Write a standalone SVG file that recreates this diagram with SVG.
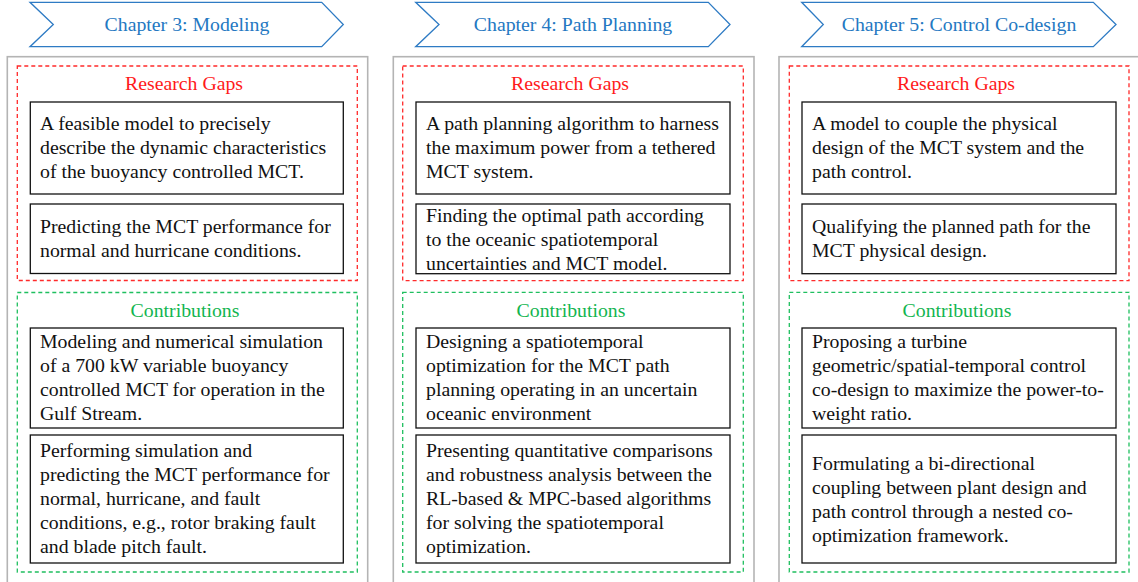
<svg xmlns="http://www.w3.org/2000/svg" width="1138" height="582" viewBox="0 0 1138 582" font-family="Liberation Serif, Times New Roman, serif">
  <style>
    text { font-family: 'Liberation Serif', 'Times New Roman', Times, serif; font-size: 19.8px; }
    .chev { fill: #ffffff; stroke: #2e7bc4; stroke-width: 1.3; }
    .chev-t { fill: #2478c2; text-anchor: middle; }
    .panel { fill: #ffffff; stroke: #b4b4b4; stroke-width: 1.6; }
    .gaps { fill: none; stroke: #ff2a2a; stroke-width: 1.3; stroke-dasharray: 4 3; }
    .contrib { fill: none; stroke: #1fbf5f; stroke-width: 1.3; stroke-dasharray: 4 3; }
    .gaps-t { fill: #ff1a1a; text-anchor: middle; }
    .contrib-t { fill: #12b550; text-anchor: middle; }
    .box { fill: #ffffff; stroke: #111111; stroke-width: 1.3; }
    .body { fill: #111111; }
  </style>

  <!-- Chapter 3 column -->
  <g id="chapter3">
    <polygon class="chev" points="30,2.3 321.7,2.3 343.3,24.5 321.7,46.7 30,46.7 53.3,24.5"/>
    <text class="chev-t" x="187" y="31">Chapter 3: Modeling</text>
    <rect class="panel" x="7.3" y="56.7" width="360.4" height="540"/>
  </g>
  <g id="ch3-gaps">
    <rect class="gaps" x="17.3" y="66" width="340" height="214.5"/>
    <text class="gaps-t" x="184" y="90">Research Gaps</text>
  </g>
  <g id="ch3-gap1">
    <rect class="box" x="30.3" y="102" width="313" height="92"/>
    <text class="body"><tspan x="40" y="130">A feasible model to precisely</tspan><tspan x="40" y="154">describe the dynamic characteristics</tspan><tspan x="40" y="178">of the buoyancy controlled MCT.</tspan></text>
  </g>
  <g id="ch3-gap2">
    <rect class="box" x="30.3" y="204" width="313" height="69.5"/>
    <text class="body"><tspan x="40" y="233">Predicting the MCT performance for</tspan><tspan x="40" y="257">normal and hurricane conditions.</tspan></text>
  </g>
  <g id="ch3-contrib">
    <rect class="contrib" x="17.3" y="292.5" width="340" height="279.5"/>
    <text class="contrib-t" x="185" y="317">Contributions</text>
  </g>
  <g id="ch3-contrib1">
    <rect class="box" x="30.3" y="328" width="313" height="100"/>
    <text class="body"><tspan x="40" y="348">Modeling and numerical simulation</tspan><tspan x="40" y="372">of a 700 kW variable buoyancy</tspan><tspan x="40" y="396">controlled MCT for operation in the</tspan><tspan x="40" y="420">Gulf Stream.</tspan></text>
  </g>
  <g id="ch3-contrib2">
    <rect class="box" x="30.3" y="435" width="313" height="128"/>
    <text class="body"><tspan x="40" y="457">Performing simulation and</tspan><tspan x="40" y="481">predicting the MCT performance for</tspan><tspan x="40" y="505">normal, hurricane, and fault</tspan><tspan x="40" y="529">conditions, e.g., rotor braking fault</tspan><tspan x="40" y="553">and blade pitch fault.</tspan></text>
  </g>

  <!-- Chapter 4 column -->
  <g id="chapter4">
    <polygon class="chev" points="415.7,2.3 708.3,2.3 730,24.5 708.3,46.7 415.7,46.7 439,24.5"/>
    <text class="chev-t" x="573" y="31">Chapter 4: Path Planning</text>
    <rect class="panel" x="393.3" y="56.7" width="360.7" height="540"/>
  </g>
  <g id="ch4-gaps">
    <rect class="gaps" x="402.7" y="66" width="340.6" height="214.7"/>
    <text class="gaps-t" x="570" y="90">Research Gaps</text>
  </g>
  <g id="ch4-gap1">
    <rect class="box" x="416" y="102" width="314" height="92"/>
    <text class="body"><tspan x="426" y="130">A path planning algorithm to harness</tspan><tspan x="426" y="154">the maximum power from a tethered</tspan><tspan x="426" y="178">MCT system.</tspan></text>
  </g>
  <g id="ch4-gap2">
    <rect class="box" x="416" y="204" width="314" height="69.7"/>
    <text class="body"><tspan x="426" y="222">Finding the optimal path according</tspan><tspan x="426" y="246">to the oceanic spatiotemporal</tspan><tspan x="426" y="270">uncertainties and MCT model.</tspan></text>
  </g>
  <g id="ch4-contrib">
    <rect class="contrib" x="402.7" y="292.3" width="340.6" height="279.7"/>
    <text class="contrib-t" x="571" y="317">Contributions</text>
  </g>
  <g id="ch4-contrib1">
    <rect class="box" x="416" y="328" width="314" height="100"/>
    <text class="body"><tspan x="426" y="348">Designing a spatiotemporal</tspan><tspan x="426" y="372">optimization for the MCT path</tspan><tspan x="426" y="396">planning operating in an uncertain</tspan><tspan x="426" y="420">oceanic environment</tspan></text>
  </g>
  <g id="ch4-contrib2">
    <rect class="box" x="416" y="435" width="314" height="128"/>
    <text class="body"><tspan x="426" y="457">Presenting quantitative comparisons</tspan><tspan x="426" y="481">and robustness analysis between the</tspan><tspan x="426" y="505">RL-based &amp; MPC-based algorithms</tspan><tspan x="426" y="529">for solving the spatiotemporal</tspan><tspan x="426" y="553">optimization.</tspan></text>
  </g>

  <!-- Chapter 5 column -->
  <g id="chapter5">
    <polygon class="chev" points="801.7,2.3 1093.3,2.3 1116,24.5 1093.3,46.7 801.7,46.7 823.3,24.5"/>
    <text class="chev-t" x="959" y="31">Chapter 5: Control Co-design</text>
    <rect class="panel" x="779" y="56.7" width="361" height="540"/>
  </g>
  <g id="ch5-gaps">
    <rect class="gaps" x="789.3" y="66" width="339.7" height="214.7"/>
    <text class="gaps-t" x="956" y="90">Research Gaps</text>
  </g>
  <g id="ch5-gap1">
    <rect class="box" x="802" y="102" width="314" height="92"/>
    <text class="body"><tspan x="812" y="130">A model to couple the physical</tspan><tspan x="812" y="154">design of the MCT system and the</tspan><tspan x="812" y="178">path control.</tspan></text>
  </g>
  <g id="ch5-gap2">
    <rect class="box" x="802" y="204" width="314" height="69.7"/>
    <text class="body"><tspan x="812" y="233">Qualifying the planned path for the</tspan><tspan x="812" y="257">MCT physical design.</tspan></text>
  </g>
  <g id="ch5-contrib">
    <rect class="contrib" x="789.3" y="292.3" width="339.7" height="279.7"/>
    <text class="contrib-t" x="957" y="317">Contributions</text>
  </g>
  <g id="ch5-contrib1">
    <rect class="box" x="802" y="328" width="314" height="100"/>
    <text class="body"><tspan x="812" y="348">Proposing a turbine</tspan><tspan x="812" y="372">geometric/spatial-temporal control</tspan><tspan x="812" y="396">co-design to maximize the power-to-</tspan><tspan x="812" y="420">weight ratio.</tspan></text>
  </g>
  <g id="ch5-contrib2">
    <rect class="box" x="802" y="435" width="314" height="128"/>
    <text class="body"><tspan x="812" y="470">Formulating a bi-directional</tspan><tspan x="812" y="494">coupling between plant design and</tspan><tspan x="812" y="518">path control through a nested co-</tspan><tspan x="812" y="542">optimization framework.</tspan></text>
  </g>

  <!-- no connectors between the columns -->
  <g id="connectors"/>
</svg>
